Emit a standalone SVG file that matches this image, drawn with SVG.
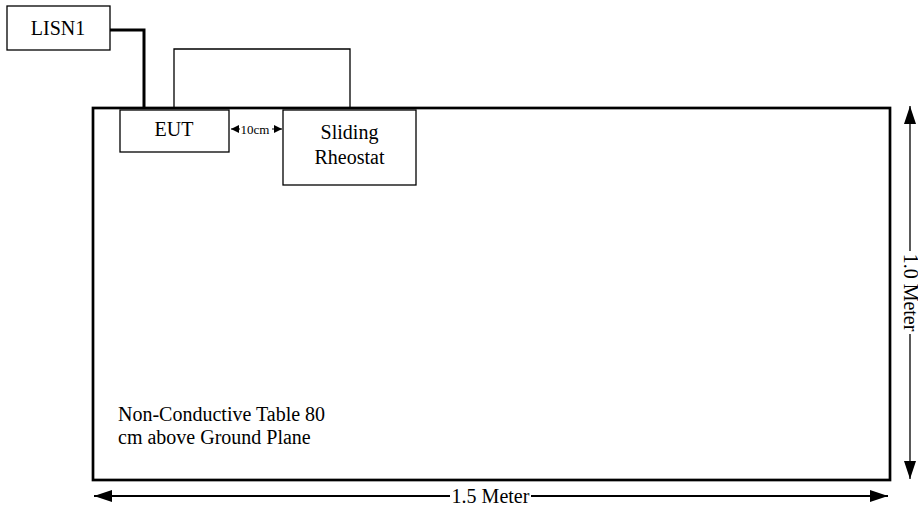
<svg xmlns="http://www.w3.org/2000/svg" width="918" height="511" viewBox="0 0 918 511">
<style>
  .box { fill: #fff; stroke: #000; stroke-width: 1.3; }
  .table { fill: none; stroke: #000; stroke-width: 2.7; }
  .lbl { font-family: "Liberation Serif", "Times New Roman", serif; font-size: 20px; fill: #000; }
  .thick { fill: none; stroke: #000; stroke-width: 3; }
  .thin { fill: none; stroke: #000; stroke-width: 1.3; }
  .dim { fill: none; stroke: #000; }
</style>
<defs>
  <marker id="ah" markerUnits="userSpaceOnUse" markerWidth="18" markerHeight="12" refX="18" refY="6" orient="auto">
    <path d="M0,0 L18,6 L0,12 Z" fill="#000"/>
  </marker>
  <marker id="ahs" markerUnits="userSpaceOnUse" markerWidth="8" markerHeight="8" refX="8" refY="4" orient="auto">
    <path d="M0,0 L8,4 L0,8 Z" fill="#000"/>
  </marker>
</defs>
<rect width="918" height="511" fill="#fff"/>

<g id="table">
  <rect class="table" x="93" y="108" width="797" height="372"/>
  <text class="lbl" x="118" y="421">Non-Conductive Table 80</text>
  <text class="lbl" x="118" y="444">cm above Ground Plane</text>
</g>

<g id="connectors">
  <path class="thick" d="M110,30 H144 V108"/>
  <path class="thin" d="M174,108 V49 H350 V108"/>
  <line class="dim" x1="240" y1="129" x2="231" y2="129" stroke-width="1" marker-end="url(#ahs)"/>
  <line class="dim" x1="272" y1="129" x2="282" y2="129" stroke-width="1" marker-end="url(#ahs)"/>
</g>

<g id="lisn1">
  <rect class="box" x="7" y="6" width="103" height="44"/>
  <text class="lbl" x="58" y="35" text-anchor="middle">LISN1</text>
</g>

<g id="eut">
  <rect class="box" x="120" y="110" width="109" height="42"/>
  <text class="lbl" x="174" y="136" text-anchor="middle">EUT</text>
</g>

<g id="gap-label">
  <text x="255" y="134" text-anchor="middle" font-family="Liberation Serif, serif" font-size="13">10cm</text>
</g>

<g id="rheostat">
  <rect class="box" x="283" y="110" width="133" height="75"/>
  <text class="lbl" x="349.5" y="139" text-anchor="middle" font-size="19">Sliding</text>
  <text class="lbl" x="349.5" y="164" text-anchor="middle" font-size="19">Rheostat</text>
</g>

<g id="dim-vertical">
  <line class="dim" stroke-width="1.3" x1="910" y1="251" x2="910" y2="106" marker-end="url(#ah)"/>
  <line class="dim" stroke-width="1.3" x1="910" y1="334" x2="910" y2="479" marker-end="url(#ah)"/>
  <text class="lbl" transform="translate(910,292.5) rotate(90)" x="0" y="6" text-anchor="middle">1.0 Meter</text>
</g>

<g id="dim-horizontal">
  <line class="dim" stroke-width="1.8" x1="450" y1="496" x2="94" y2="496" marker-end="url(#ah)"/>
  <line class="dim" stroke-width="1.8" x1="531" y1="496" x2="888" y2="496" marker-end="url(#ah)"/>
  <text class="lbl" x="490.5" y="503" text-anchor="middle">1.5 Meter</text>
</g>
</svg>
